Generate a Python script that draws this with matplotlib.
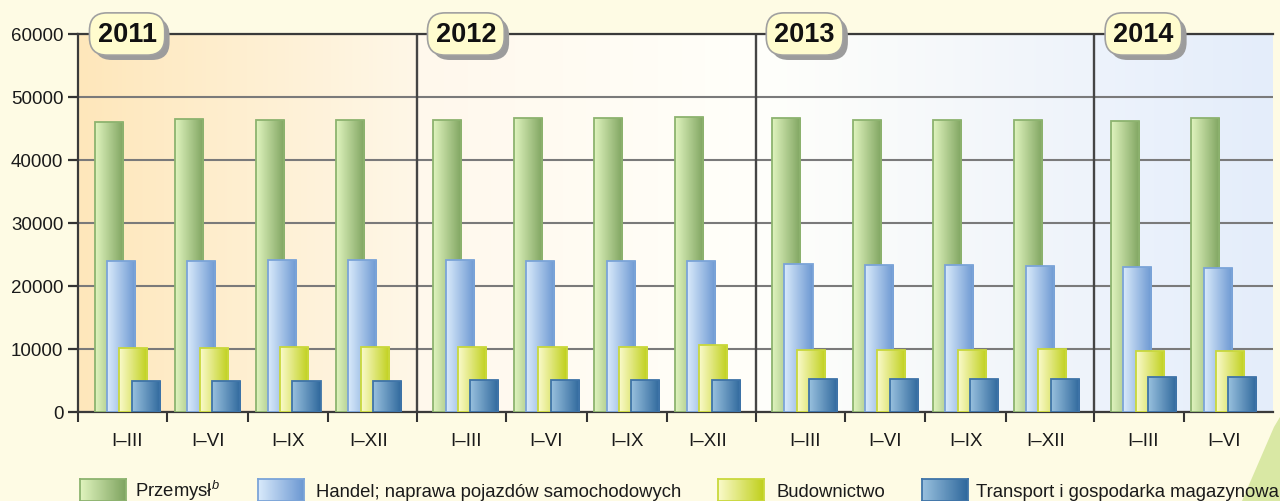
import numpy as np
import matplotlib
matplotlib.use("Agg")
import matplotlib.pyplot as plt
import matplotlib.patheffects as pe
from matplotlib.colors import LinearSegmentedColormap
from matplotlib.patches import Polygon

plt.rcParams['font.family'] = ['Liberation Sans', 'DejaVu Sans']
plt.rcParams['mathtext.fontset'] = 'custom'
plt.rcParams['mathtext.it'] = 'Liberation Sans:italic'
plt.rcParams['mathtext.rm'] = 'Liberation Sans'

lata = ["2011", "2012", "2013", "2014"]
okresy = [["I–III", "I–VI", "I–IX", "I–XII"],
          ["I–III", "I–VI", "I–IX", "I–XII"],
          ["I–III", "I–VI", "I–IX", "I–XII"],
          ["I–III", "I–VI"]]
serie = ["Przemysł$^{b}$", "Handel; naprawa pojazdów samochodowych",
         "Budownictwo", "Transport i gospodarka magazynowa"]

przemysl = [46000, 46500, 46300, 46300, 46300, 46700, 46700, 46850,
            46600, 46400, 46300, 46300, 46200, 46600]
handel = [23900, 23900, 24100, 24100, 24100, 23900, 23900, 23900,
          23400, 23300, 23300, 23100, 22900, 22800]
budownictwo = [10050, 10050, 10300, 10300, 10250, 10200, 10300, 10500,
               9800, 9800, 9800, 9900, 9650, 9650]
transport = [4800, 4800, 4800, 4800, 5000, 5000, 4950, 4950,
             5200, 5150, 5150, 5150, 5450, 5450]

# kolory: (jasny, ciemny, ramka)
kolory = [("#e0f4be", "#7fa460", "#8db36f"),
          ("#d9eafb", "#6c98d2", "#7ba4d8"),
          ("#fafaca", "#c0d01c", "#c9d83c"),
          ("#98c0de", "#2f689c", "#3f74a8")]
tla = [("#fee7bb", "#fff7e7"), ("#fff8ec", "#fffffa"),
       ("#fffffa", "#eef3fb"), ("#edf3fc", "#e4edfa")]

szer_roku = 4.21
margines = 0.61

x = []
pocz_lat = []
for r, ok in enumerate(okresy):
    pocz_lat.append(r * szer_roku)
    for i in range(len(ok)):
        x.append(r * szer_roku + margines + i)
x = np.array(x)
koniec = pocz_lat[-1] + len(okresy[-1]) + 2 * (margines - 0.5)

fig = plt.figure(figsize=(12.8, 5.02), dpi=100)
fig.patch.set_facecolor("#fefbe4")

# ozdobny trojkat w rogu
fig.patches.append(Polygon([(1274/1280, 1 - 428/502), (1.0, 1 - 418/502), (1.0, 0.0), (1242/1280, 0.0)],
                           closed=True, transform=fig.transFigure, facecolor="#d9e8a4",
                           edgecolor="none", zorder=0))

ax = fig.add_axes([78/1280, 1 - 412.5/502, 1195/1280, 377.5/502])
ax.set_facecolor("none")


def gradient(ax, x0, x1, y0, y1, c1, c2, z, clip=None):
    cmap = LinearSegmentedColormap.from_list("g", [c1, c2])
    im = ax.imshow(np.linspace(0, 1, 64).reshape(1, -1), cmap=cmap,
                   extent=[x0, x1, y0, y1], aspect="auto", zorder=z,
                   interpolation="bicubic")
    if clip is not None:
        im.set_clip_path(clip)
    return im


# tlo dla kazdego roku
for r in range(len(lata)):
    x0 = pocz_lat[r]
    x1 = pocz_lat[r + 1] if r + 1 < len(lata) else koniec
    gradient(ax, x0, x1, 0, 60000, tla[r][0], tla[r][1], 0)

# slupki
w = 0.348
krok = 0.153
dane = [przemysl, handel, budownictwo, transport]
for k, wart in enumerate(dane):
    z = 3 + k
    bars = ax.bar(x + (k - 1.5) * krok, wart, width=w, facecolor="none",
                  edgecolor=kolory[k][2], linewidth=1.3, zorder=z + 0.5)
    for rect in bars:
        gradient(ax, rect.get_x(), rect.get_x() + rect.get_width(), 0, rect.get_height(),
                 kolory[k][0], kolory[k][1], z, clip=rect)

# linie siatki i separatory lat
ax.set_axisbelow(True)
ax.yaxis.grid(True, color="#7a7a7a", linewidth=1.5, zorder=1)
for p in pocz_lat[1:]:
    ax.axvline(p, color="#454545", linewidth=1.7, zorder=2)

ax.set_xlim(0, koniec)
ax.set_ylim(0, 60000)
ax.set_yticks(range(0, 60001, 10000))
ax.set_yticklabels([str(v) for v in range(0, 60001, 10000)])

etykiety = [e for ok in okresy for e in ok]
ax.set_xticks(x)
ax.set_xticklabels(etykiety)
granice = list(pocz_lat)
for r, ok in enumerate(okresy):
    for i in range(len(ok) - 1):
        granice.append(pocz_lat[r] + margines + i + 0.5)
ax.set_xticks(granice, minor=True)
ax.tick_params(axis="x", which="major", length=0, pad=15, labelsize=13.5, colors="#1a1a1a")
ax.tick_params(axis="x", which="minor", length=7.5, width=1.5, color="#333333", direction="out")
ax.tick_params(axis="y", length=7.5, width=1.6, color="#333333", pad=3, labelsize=13.5,
               labelcolor="#1a1a1a")

for s in ["left", "bottom", "top"]:
    ax.spines[s].set_color("#3a3a3a")
    ax.spines[s].set_linewidth(1.6)
ax.spines["right"].set_visible(False)

# etykiety lat w zaokraglonych ramkach
for r, rok in enumerate(lata):
    xr = pocz_lat[r] + margines
    t = ax.text(xr, 60000, rok, ha="center", va="center",
                fontsize=19.5, fontweight="bold", color="#111111",
                bbox=dict(boxstyle="round,pad=0.3,rounding_size=0.65", fc="#fffcce",
                          ec="#a0a0a0", lw=1.2),
                zorder=10, clip_on=False)
    t.get_bbox_patch().set_path_effects([
        pe.SimplePatchShadow(offset=(3.5, -3.5), shadow_rgbFace="#9c9c9c", alpha=1.0),
        pe.Normal()])

# legenda
leg_x = [80, 258, 718, 922]
leg_tx = [135, 316, 776, 976]
for k in range(4):
    lax = fig.add_axes([leg_x[k] / 1280, 0, 46 / 1280, 22 / 502])
    lax.imshow(np.linspace(0, 1, 64).reshape(1, -1),
               cmap=LinearSegmentedColormap.from_list("l", [kolory[k][0], kolory[k][1]]),
               aspect="auto", extent=[0, 1, 0, 1], interpolation="bicubic")
    lax.set_xticks([])
    lax.set_yticks([])
    for sp in lax.spines.values():
        sp.set_color(kolory[k][2])
        sp.set_linewidth(1.3)
    fig.text(leg_tx[k] / 1280, 4.5 / 502, serie[k], fontsize=13.3, color="#1a1a1a",
             ha="left", va="baseline")

fig.savefig("out.png", dpi=100, facecolor=fig.get_facecolor())
